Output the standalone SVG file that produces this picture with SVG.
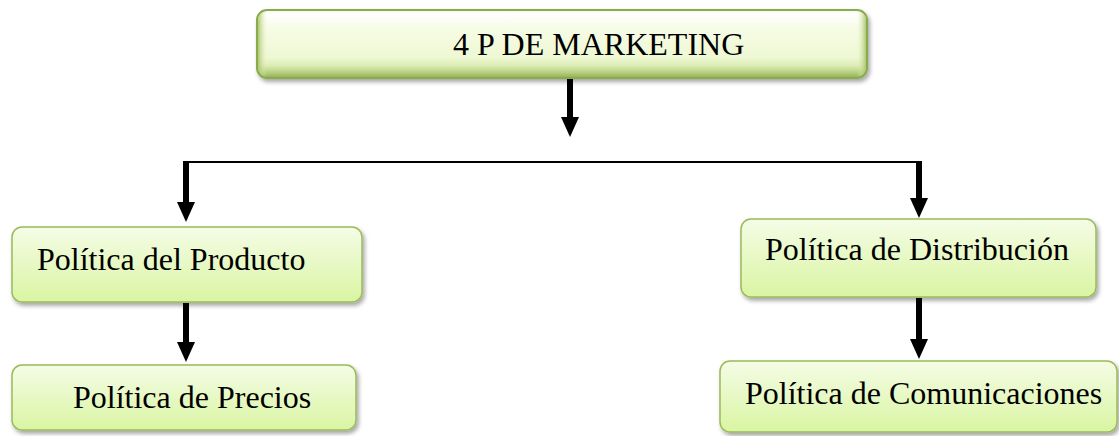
<svg xmlns="http://www.w3.org/2000/svg" width="1119" height="436" viewBox="0 0 1119 436">
  <style>
    .lbl { font-family: "Liberation Serif", "Times New Roman", serif; font-size: 32px; fill: #000; }
    .box { fill: url(#boxGrad); stroke: #9bbb59; stroke-width: 1.5; filter: url(#shadow); }
    .shaft { stroke: #000; stroke-width: 6; fill: none; }
    .hline { stroke: #000; stroke-width: 2; fill: none; }
  </style>
  <defs>
    <linearGradient id="boxGrad" x1="0" y1="0" x2="0" y2="1">
      <stop offset="0" stop-color="#f5fce6"/>
      <stop offset="1" stop-color="#d9f5a2"/>
    </linearGradient>
    <linearGradient id="titleGrad" x1="0" y1="0" x2="0" y2="1">
      <stop offset="0" stop-color="#f7fbea"/>
      <stop offset="0.06" stop-color="#ffffff"/>
      <stop offset="0.25" stop-color="#f7fce6"/>
      <stop offset="0.7" stop-color="#eef8d3"/>
      <stop offset="0.82" stop-color="#dcecb4"/>
      <stop offset="0.92" stop-color="#b6cf7e"/>
      <stop offset="1" stop-color="#8fae50"/>
    </linearGradient>
    <linearGradient id="titleSide" x1="0" y1="0" x2="1" y2="0">
      <stop offset="0" stop-color="#a6c26a" stop-opacity="0.9"/>
      <stop offset="0.015" stop-color="#e6f2c6" stop-opacity="0"/>
      <stop offset="0.985" stop-color="#e6f2c6" stop-opacity="0"/>
      <stop offset="1" stop-color="#a6c26a" stop-opacity="0.9"/>
    </linearGradient>
    <filter id="shadow" x="-5%" y="-10%" width="115%" height="140%">
      <feDropShadow dx="2" dy="3" stdDeviation="2" flood-color="#000" flood-opacity="0.35"/>
    </filter>
    <marker id="head" markerUnits="userSpaceOnUse" markerWidth="20" markerHeight="18" viewBox="0 0 20 18" refX="1" refY="9" orient="auto">
      <path d="M0,0 L20,9 L0,18 Z" fill="#000"/>
    </marker>
  </defs>

  <g id="connectors">
    <path class="shaft" d="M570,78 V118" marker-end="url(#head)"/>
    <path class="hline" d="M186,162 H919"/>
    <path class="shaft" d="M186,161 V203" marker-end="url(#head)"/>
    <path class="shaft" d="M919,161 V199" marker-end="url(#head)"/>
    <path class="shaft" d="M186,303 V343" marker-end="url(#head)"/>
    <path class="shaft" d="M919,298 V340" marker-end="url(#head)"/>
  </g>

  <g id="node-title">
    <rect x="257" y="10" width="610" height="68" rx="10" fill="url(#titleGrad)" stroke="#8aab4a" stroke-width="2" filter="url(#shadow)"/>
    <rect x="258" y="11" width="608" height="66" rx="9" fill="url(#titleSide)"/>
    <text class="lbl" x="453" y="55">4 P DE MARKETING</text>
  </g>

  <g id="node-producto">
    <rect class="box" x="12" y="227" width="350" height="75" rx="10"/>
    <text class="lbl" x="37" y="270">Política del Producto</text>
  </g>

  <g id="node-distribucion">
    <rect class="box" x="741" y="219" width="355" height="78" rx="10"/>
    <text class="lbl" x="765" y="260">Política de Distribución</text>
  </g>

  <g id="node-precios">
    <rect class="box" x="12" y="365" width="344" height="65" rx="10"/>
    <text class="lbl" x="73" y="408">Política de Precios</text>
  </g>

  <g id="node-comunicaciones">
    <rect class="box" x="720" y="361" width="397" height="71" rx="10"/>
    <text class="lbl" x="745" y="404">Política de Comunicaciones</text>
  </g>
</svg>
